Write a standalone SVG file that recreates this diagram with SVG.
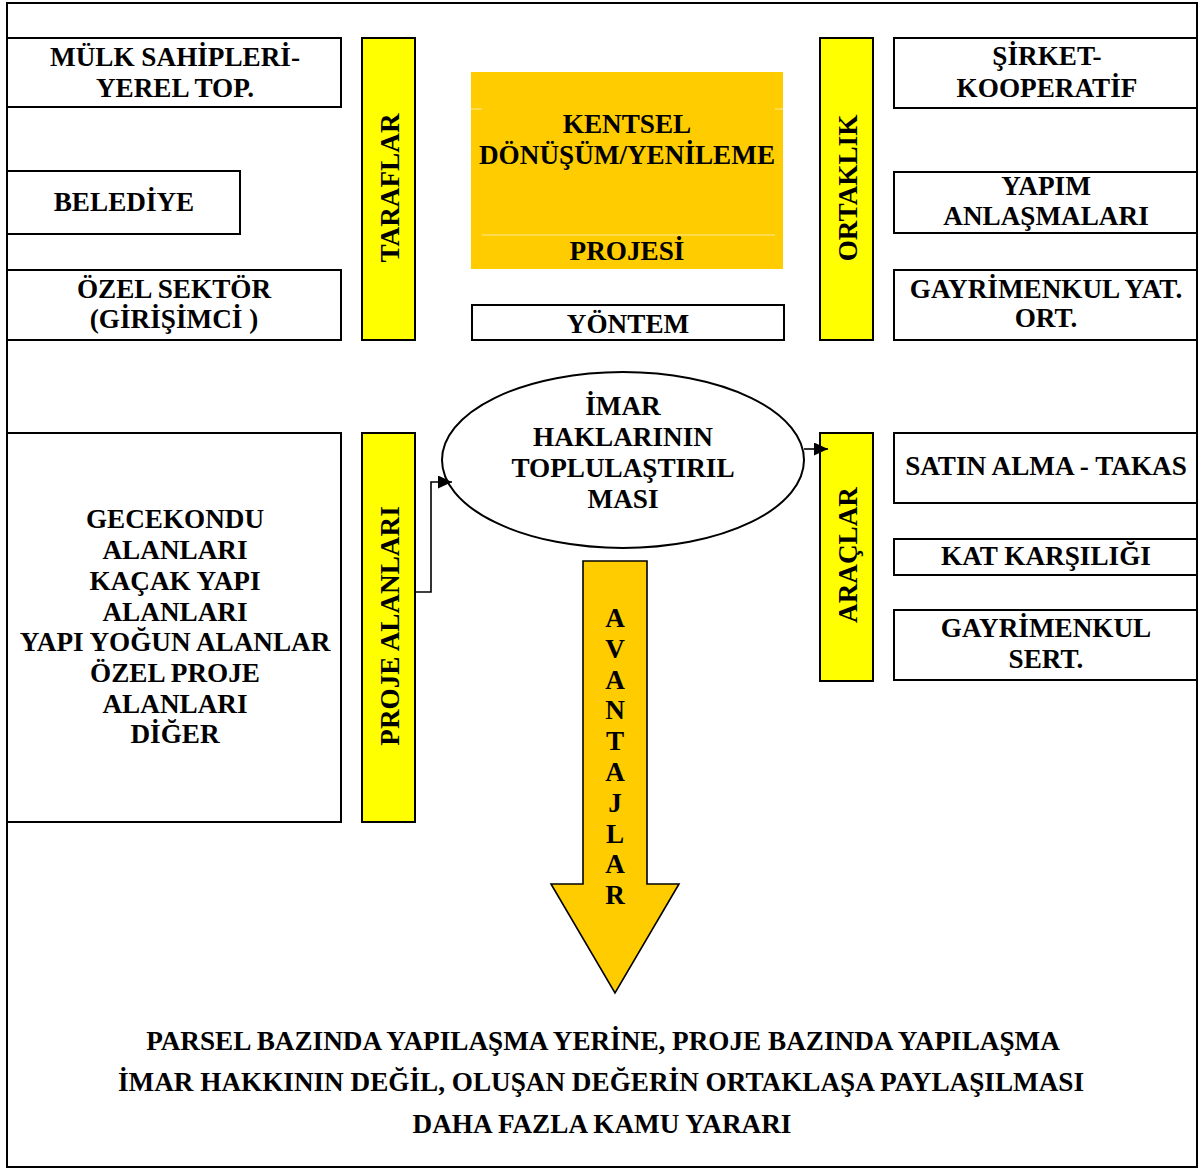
<svg xmlns="http://www.w3.org/2000/svg" width="1201" height="1170" viewBox="0 0 1201 1170">
<defs>
<style>
.t{font-family:"Liberation Serif","Times New Roman",serif;font-weight:bold;font-size:27.2px;fill:#000;text-anchor:middle}
.box{fill:#fff;stroke:#000;stroke-width:2}
.bar{fill:#FFFF00;stroke:#000;stroke-width:2}
.conn{fill:none;stroke:#000;stroke-width:1.6}
</style>
<marker id="ah" markerUnits="userSpaceOnUse" markerWidth="14" markerHeight="13" viewBox="0 0 14 13" refX="14" refY="6.5" orient="auto">
<path d="M0,0 L14,6.5 L0,13 z" fill="#000"/>
</marker>
</defs>
<rect width="1201" height="1170" fill="#fff"/>
<rect x="7" y="3" width="1190" height="1164" fill="none" stroke="#000" stroke-width="2"/>

<g id="mulk"><rect class="box" x="7" y="38" width="334" height="69"/>
<text class="t" x="175" y="66">MÜLK SAHİPLERİ-</text><text class="t" x="175" y="97">YEREL TOP.</text></g>
<g id="belediye"><rect class="box" x="7" y="171" width="233" height="63"/>
<text class="t" x="124" y="211">BELEDİYE</text></g>
<g id="ozel"><rect class="box" x="7" y="270" width="334" height="70"/>
<text class="t" x="174" y="298">ÖZEL SEKTÖR</text><text class="t" x="174" y="328">(GİRİŞİMCİ )</text></g>
<g id="taraflar"><rect class="bar" x="362" y="38" width="53" height="302"/>
<text class="t" transform="translate(399,188) rotate(-90)">TARAFLAR</text></g>

<g id="proje"><rect x="471" y="72" width="312" height="197" fill="#FFCC00"/>
<path d="M471,109 H482 M775,109 H783 M482,235 H775" stroke="#FFE99A" stroke-width="1" fill="none"/>
<text class="t" x="627" y="133">KENTSEL</text><text class="t" x="627" y="164">DÖNÜŞÜM/YENİLEME</text>
<text class="t" x="627" y="260">PROJESİ</text></g>
<g id="yontem"><rect class="box" x="472" y="305" width="312" height="35"/>
<text class="t" x="628" y="333">YÖNTEM</text></g>

<g id="ortaklik"><rect class="bar" x="820" y="38" width="53" height="302"/>
<text class="t" transform="translate(857,188) rotate(-90)">ORTAKLIK</text></g>
<g id="sirket"><rect class="box" x="894" y="38" width="303" height="70"/>
<text class="t" x="1047" y="65">ŞİRKET-</text><text class="t" x="1047" y="97">KOOPERATİF</text></g>
<g id="yapim"><rect class="box" x="894" y="172" width="303" height="61"/>
<text class="t" x="1046" y="195">YAPIM</text><text class="t" x="1046" y="225">ANLAŞMALARI</text></g>
<g id="gyo"><rect class="box" x="894" y="270" width="303" height="70"/>
<text class="t" x="1046" y="298">GAYRİMENKUL YAT.</text><text class="t" x="1046" y="327">ORT.</text></g>

<g id="imar"><ellipse cx="623" cy="460" rx="181" ry="88" fill="#fff" stroke="#000" stroke-width="2"/>
<text class="t" x="623" y="415">İMAR</text><text class="t" x="623" y="446">HAKLARININ</text>
<text class="t" x="623" y="477">TOPLULAŞTIRIL</text><text class="t" x="623" y="508">MASI</text></g>

<g id="alanlar"><rect class="box" x="7" y="433" width="334" height="389"/>
<text class="t" x="175" y="528">GECEKONDU</text><text class="t" x="175" y="559">ALANLARI</text>
<text class="t" x="175" y="590">KAÇAK YAPI</text><text class="t" x="175" y="621">ALANLARI</text>
<text class="t" x="175" y="651">YAPI YOĞUN ALANLAR</text><text class="t" x="175" y="682">ÖZEL PROJE</text>
<text class="t" x="175" y="713">ALANLARI</text><text class="t" x="175" y="743">DİĞER</text></g>
<g id="proje-alanlari"><rect class="bar" x="362" y="433" width="53" height="389"/>
<text class="t" transform="translate(399,626) rotate(-90)">PROJE ALANLARI</text></g>

<g id="araclar"><rect class="bar" x="820" y="433" width="53" height="248"/>
<text class="t" transform="translate(857,555) rotate(-90)">ARAÇLAR</text></g>
<g id="satin"><rect class="box" x="894" y="433" width="303" height="70"/>
<text class="t" x="1046" y="475">SATIN ALMA - TAKAS</text></g>
<g id="kat"><rect class="box" x="894" y="539" width="303" height="36"/>
<text class="t" x="1046" y="565">KAT KARŞILIĞI</text></g>
<g id="sert"><rect class="box" x="894" y="610" width="303" height="70"/>
<text class="t" x="1046" y="637">GAYRİMENKUL</text><text class="t" x="1046" y="668">SERT.</text></g>

<g id="avantajlar"><polygon points="583,561 647,561 647,884 679,884 615,993 551,884 583,884" fill="#FFCC00" stroke="#000" stroke-width="1.6"/>
<text class="t" x="615" y="627">A</text><text class="t" x="615" y="658">V</text><text class="t" x="615" y="689">A</text>
<text class="t" x="615" y="719">N</text><text class="t" x="615" y="750">T</text><text class="t" x="615" y="781">A</text>
<text class="t" x="615" y="812">J</text><text class="t" x="615" y="843">L</text><text class="t" x="615" y="873">A</text>
<text class="t" x="615" y="904">R</text></g>

<g id="sonuc">
<text class="t" x="603" y="1050">PARSEL BAZINDA YAPILAŞMA YERİNE, PROJE BAZINDA YAPILAŞMA</text>
<text class="t" x="601" y="1091">İMAR HAKKININ DEĞİL, OLUŞAN DEĞERİN ORTAKLAŞA PAYLAŞILMASI</text>
<text class="t" x="602" y="1133">DAHA FAZLA KAMU YARARI</text></g>

<g id="connectors">
<path class="conn" d="M415,592 H431 V482 H452" marker-end="url(#ah)"/>
<path class="conn" d="M804,449 H828" marker-end="url(#ah)"/>
</g>
</svg>
